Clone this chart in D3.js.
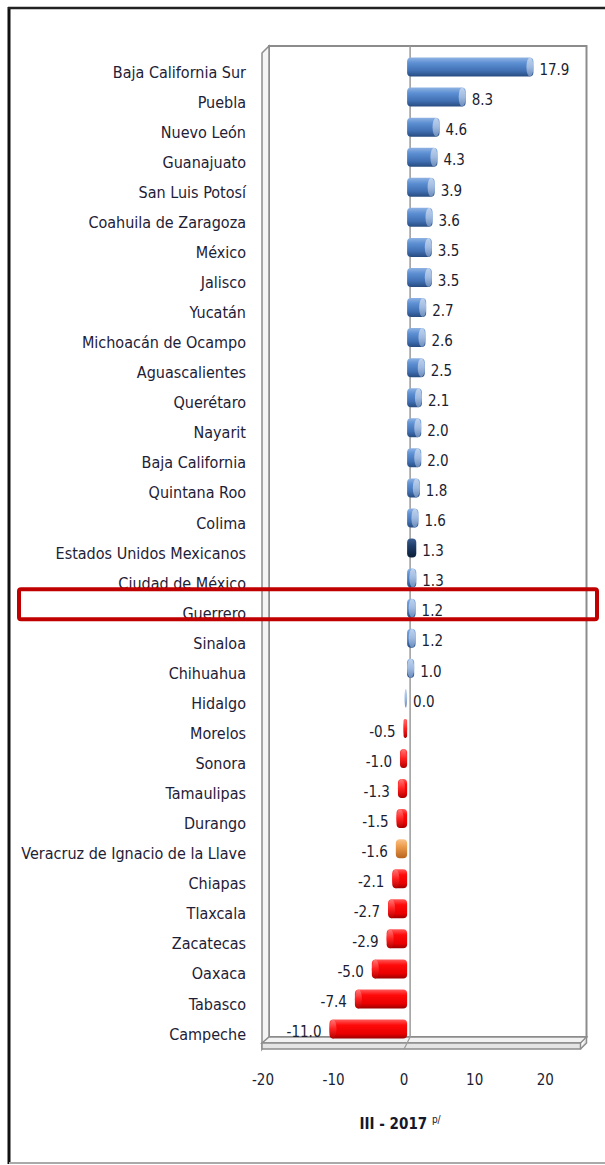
<!DOCTYPE html>
<meta charset="utf-8">
<script src="https://cdn.jsdelivr.net/npm/d3@7"></script>
<style>
  body { margin: 0; background: #fff; }
  text { font-family: "Liberation Sans Narrow", "DejaVu Sans Condensed", "Open Sans", sans-serif; }
</style>
<div id="my_dataviz"></div>
<script>

// data
var estados = ["Baja California Sur", "Puebla", "Nuevo León", "Guanajuato", "San Luis Potosí",
  "Coahuila de Zaragoza", "México", "Jalisco", "Yucatán", "Michoacán de Ocampo", "Aguascalientes",
  "Querétaro", "Nayarit", "Baja California", "Quintana Roo", "Colima", "Estados Unidos Mexicanos",
  "Ciudad de México", "Guerrero", "Sinaloa", "Chihuahua", "Hidalgo", "Morelos", "Sonora",
  "Tamaulipas", "Durango", "Veracruz de Ignacio de la Llave", "Chiapas", "Tlaxcala", "Zacatecas",
  "Oaxaca", "Tabasco", "Campeche"];
var valores = [17.9, 8.3, 4.6, 4.3, 3.9, 3.6, 3.5, 3.5, 2.7, 2.6, 2.5, 2.1, 2.0, 2.0, 1.8, 1.6, 1.3,
  1.3, 1.2, 1.2, 1.0, 0.0, -0.5, -1.0, -1.3, -1.5, -1.6, -2.1, -2.7, -2.9, -5.0, -7.4, -11.0];
var ticks = [-20, -10, 0, 10, 20];
var nacional = "Estados Unidos Mexicanos";
var resaltado = "Veracruz de Ignacio de la Llave";
var marcado = "Guerrero";
var tituloEje = "III - 2017";

var width = 605, height = 1165;

var svg = d3.select("#my_dataviz")
  .append("svg")
    .attr("width", width)
    .attr("height", height);

var defs = svg.append("defs");
function grad(id, stops) {
  var g = defs.append("linearGradient").attr("id", id)
    .attr("x1", 0).attr("y1", 0).attr("x2", 0).attr("y2", 1);
  stops.forEach(function(s) {
    g.append("stop").attr("offset", s[0]).attr("stop-color", s[1]);
  });
}
grad("azul", [[0, "#8fb3e3"], [0.3, "#5b8ed2"], [0.7, "#4170b3"], [1, "#284c80"]]);
grad("azulTapa", [[0, "#c0d3ee"], [0.5, "#9fbae0"], [1, "#6b8bba"]]);
grad("marino", [[0, "#3d5f92"], [0.4, "#1f3d6a"], [1, "#0c1e38"]]);
grad("naranja", [[0, "#fbc48a"], [0.4, "#ec9a4b"], [1, "#b8661f"]]);
grad("rojo", [[0, "#ff5a5a"], [0.3, "#ff0a0a"], [0.75, "#e80000"], [1, "#9c0000"]]);
grad("rojoTapa", [[0, "#ff7a7a"], [0.5, "#ff2020"], [1, "#b00000"]]);

// outer frame
svg.append("line").attr("x1", 9).attr("x2", 9).attr("y1", 7).attr("y2", 1164)
  .attr("stroke", "#111").attr("stroke-width", 3);
svg.append("line").attr("x1", 8).attr("x2", 605).attr("y1", 8).attr("y2", 8)
  .attr("stroke", "#222").attr("stroke-width", 2.5);
svg.append("line").attr("x1", 9).attr("x2", 605).attr("y1", 1163).attr("y2", 1163)
  .attr("stroke", "#aaa").attr("stroke-width", 2);

// scales: front plane (axis), bar plane, back wall
var xFront = d3.scaleLinear().domain([-20, 25]).range([263, 580.5]);
var xBar = d3.scaleLinear().domain([-20, 25]).range([266, 583.5]);
var xBack = d3.scaleLinear().domain([-20, 25]).range([269, 586.5]);
var y = d3.scalePoint().domain(estados).range([67, 1029]);
var barH = 19;

var wallTop = 46, backBottom = 1037, floorTop = 1043, floorBottom = 1049;

// back wall
svg.append("rect")
  .attr("x", xBack(-20)).attr("y", wallTop)
  .attr("width", xBack(25) - xBack(-20)).attr("height", backBottom - wallTop)
  .attr("fill", "#fff").attr("stroke", "#8c8c8c").attr("stroke-width", 2);

// left wall
svg.append("path")
  .attr("d", "M" + xBack(-20) + "," + wallTop + " L" + (xFront(-20) - 1) + "," + (wallTop + 7) +
    " L" + (xFront(-20) - 1) + "," + floorBottom + " L" + xBack(-20) + "," + backBottom + "Z")
  .attr("fill", "#f4f4f4").attr("stroke", "#8c8c8c").attr("stroke-width", 1.5);

// floor slab
svg.append("path")
  .attr("d", "M" + xBack(-20) + "," + backBottom + " L" + xBack(25) + "," + backBottom +
    " L" + xFront(25) + "," + floorTop + " L" + (xFront(-20) - 1) + "," + floorTop + "Z")
  .attr("fill", "#f2f2f2").attr("stroke", "#8c8c8c").attr("stroke-width", 1.5);
svg.append("path")
  .attr("d", "M" + xFront(25) + "," + floorBottom + " L" + xBack(25) + "," + (backBottom + 6) +
    " L" + xBack(25) + "," + backBottom)
  .attr("fill", "#e4e4e4").attr("stroke", "#8c8c8c").attr("stroke-width", 1.5);
svg.append("rect")
  .attr("x", xFront(-20) - 1).attr("y", floorTop)
  .attr("width", xFront(25) - xFront(-20) + 1).attr("height", floorBottom - floorTop)
  .attr("fill", "#e4e4e4").attr("stroke", "#8c8c8c").attr("stroke-width", 1.5);

// zero line on back wall and floor
svg.append("line")
  .attr("x1", xBack(0)).attr("x2", xBack(0)).attr("y1", wallTop).attr("y2", backBottom)
  .attr("stroke", "#9a9a9a").attr("stroke-width", 1.5);
svg.append("line")
  .attr("x1", xBack(0)).attr("x2", xFront(0)).attr("y1", backBottom).attr("y2", floorBottom)
  .attr("stroke", "#9a9a9a").attr("stroke-width", 1.2);

// bars (cylinders)
var data = estados.map(function(d, i) { return {estado: d, valor: valores[i]}; });

function cuerpo(d) {
  if (d.estado === nacional) return "url(#marino)";
  if (d.estado === resaltado) return "url(#naranja)";
  return d.valor >= 0 ? "url(#azul)" : "url(#rojo)";
}
function tapa(d) {
  return d.valor >= 0 ? "url(#azulTapa)" : "url(#rojoTapa)";
}
function capR(d) {
  var w = Math.abs(xBar(d.valor) - xBar(0));
  return Math.min(3.5, Math.max(1.3, w / 2));
}

var bars = svg.selectAll("g.barra")
  .data(data)
  .enter()
  .append("g").attr("class", "barra");

bars.append("rect")
  .attr("x", function(d) { return Math.min(xBar(0), xBar(d.valor)); })
  .attr("y", function(d) { return y(d.estado) - barH / 2; })
  .attr("width", function(d) { return Math.abs(xBar(d.valor) - xBar(0)); })
  .attr("height", barH)
  .attr("rx", function(d) { return Math.min(4, Math.abs(xBar(d.valor) - xBar(0)) / 2); })
  .attr("fill", cuerpo);

bars.filter(function(d) { return d.estado !== nacional && d.estado !== resaltado; })
  .append("ellipse")
  .attr("cx", function(d) { return d.valor >= 0 ? xBar(d.valor) - capR(d) : xBar(d.valor) + capR(d); })
  .attr("cy", function(d) { return y(d.estado); })
  .attr("rx", capR)
  .attr("ry", barH / 2)
  .attr("fill", tapa);

// value labels
var fmt = function(v) { return d3.format(".1f")(v).replace("\u2212", "-"); };
svg.selectAll("text.valor")
  .data(data)
  .enter()
  .append("text").attr("class", "valor")
  .attr("x", function(d) { return d.valor >= 0 ? xBar(d.valor) + 6 : xBar(d.valor) - 8; })
  .attr("y", function(d) { return y(d.estado) + 3; })
  .attr("dy", "0.35em")
  .attr("text-anchor", function(d) { return d.valor >= 0 ? "start" : "end"; })
  .attr("font-size", 15)
  .attr("fill", "#1b1e32")
  .text(function(d) { return fmt(d.valor); });

// category labels
svg.selectAll("text.estado")
  .data(data)
  .enter()
  .append("text").attr("class", "estado")
  .attr("x", 246)
  .attr("y", function(d) { return y(d.estado) + 5; })
  .attr("dy", "0.35em")
  .attr("text-anchor", "end")
  .attr("font-size", 16)
  .attr("fill", "#1e2136")
  .text(function(d) { return d.estado; });

// bottom axis labels
svg.selectAll("text.tick")
  .data(ticks)
  .enter()
  .append("text").attr("class", "tick")
  .attr("x", function(d) { return xFront(d); })
  .attr("y", 1080)
  .attr("dy", "0.35em")
  .attr("text-anchor", "middle")
  .attr("font-size", 15)
  .attr("fill", "#1b1e32")
  .text(function(d) { return d; });

// axis title
var tt = svg.append("text")
  .attr("x", xFront(0) - 4).attr("y", 1123).attr("dy", "0.35em")
  .attr("text-anchor", "middle").attr("fill", "#15182a");
tt.append("tspan").attr("font-size", 15).attr("font-weight", "bold").text(tituloEje + " ");
tt.append("tspan").attr("font-size", 10).attr("dy", "-0.6em").text("p/");

// highlight box
svg.append("rect")
  .attr("x", 19).attr("y", y(marcado) - 19)
  .attr("width", 578).attr("height", 30)
  .attr("rx", 2)
  .attr("fill", "none").attr("stroke", "#c00000").attr("stroke-width", 4);

</script>
